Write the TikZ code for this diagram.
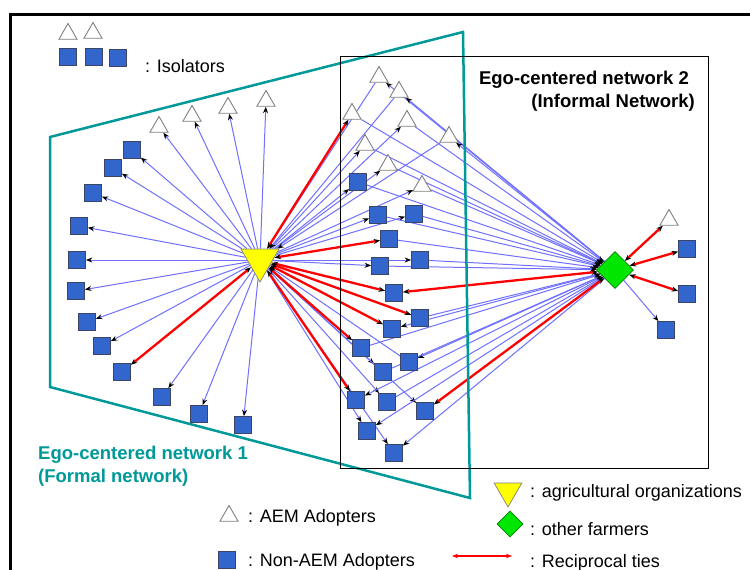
\documentclass[tikz,border=0pt]{standalone}
\usepackage{fontspec}
\setmainfont{Liberation Sans}
\usetikzlibrary{shapes.geometric,arrows.meta}
\pgfdeclarelayer{backlayer}
\pgfdeclarelayer{edgelayer}
\pgfdeclarelayer{framelayer}
\pgfsetlayers{backlayer,edgelayer,framelayer,main}
\definecolor{sqblue}{RGB}{51,102,204}
\definecolor{sqedge}{RGB}{60,70,100}
\definecolor{lnblue}{RGB}{112,112,255}
\definecolor{tealc}{RGB}{0,153,153}
\definecolor{egoyel}{RGB}{255,255,0}
\definecolor{egogrn}{RGB}{0,230,0}
\definecolor{egogrnedge}{RGB}{0,130,0}
\definecolor{trigray}{RGB}{128,128,128}
\tikzset{
  every node/.style={font=\fontsize{18}{20}\selectfont},
  trinode/.style={regular polygon,regular polygon sides=3,draw=trigray,fill=white,minimum size=21pt,inner sep=0pt,line width=0.9pt},
  sqnode/.style={rectangle,draw=sqedge,fill=sqblue,minimum size=17pt,inner sep=0pt,line width=0.7pt},
  egoA/.style={regular polygon,regular polygon sides=3,shape border rotate=180,draw=trigray,fill=egoyel,minimum size=44pt,inner sep=0pt,line width=0.7pt},
  egoB/.style={diamond,draw=egogrnedge,fill=egogrn,minimum size=37pt,inner sep=0pt,line width=0.7pt},
  tie/.style={draw=lnblue,line width=1pt,-{Stealth[length=6.5pt,width=5pt,color=black]}},
  tieback/.style={draw=lnblue,line width=1pt,{Stealth[length=6.5pt,width=5pt,color=black]}-},
  recip/.style={draw=red,line width=2.3pt,{Stealth[length=6.5pt,width=5pt,color=black]}-{Stealth[length=6.5pt,width=5pt,color=black]}},
  lbl/.style={anchor=base west,inner sep=0pt},
  ttl/.style={inner sep=0pt,font=\fontsize{18.5}{20}\selectfont\bfseries},
}
\begin{document}
\begin{tikzpicture}[x=1pt,y=-1pt]
\useasboundingbox (0,0) rectangle (750,570);
\begin{pgfonlayer}{backlayer}
\fill[white] (0,0) rectangle (750,570);
\end{pgfonlayer}
\draw[line width=3pt] (10,570) -- (10,14) -- (750,14);

% isolators
\node[trinode] (ia) at (68,34) {};
\node[trinode] (ib) at (93,33) {};
\node[sqnode] (sa) at (68,57) {};
\node[sqnode] (sb) at (94,57) {};
\node[sqnode] (sc) at (118,58) {};
\node[lbl] (tiso) at (145,72) {: Isolators};

% egos
\node[egoA] (E1) at (260,260) {};
\node[egoB] (E2) at (615,270) {};

% left network
\node[trinode] (L1) at (159,127) {};
\node[trinode] (L2) at (192,116) {};
\node[trinode] (L3) at (228,108) {};
\node[trinode] (L4) at (266,101) {};
\node[sqnode] (q1) at (132,150) {};
\node[sqnode] (q2) at (113,168) {};
\node[sqnode] (q3) at (93,193) {};
\node[sqnode] (q4) at (79,226) {};
\node[sqnode] (q5) at (77,260) {};
\node[sqnode] (q6) at (76,291) {};
\node[sqnode] (q7) at (87,322) {};
\node[sqnode] (q8) at (102,346) {};
\node[sqnode] (q9) at (122,372) {};
\node[sqnode] (q10) at (162,397) {};
\node[sqnode] (q11) at (199,414) {};
\node[sqnode] (q12) at (243,425) {};

% middle network
\node[trinode] (T1) at (379,77) {};
\node[trinode] (T2) at (399,92) {};
\node[trinode] (T3) at (352,114) {};
\node[trinode] (T4) at (407,121) {};
\node[trinode] (T5) at (449,137) {};
\node[trinode] (T6) at (365,145) {};
\node[trinode] (T7) at (388,165) {};
\node[trinode] (T8) at (422,186) {};
\node[sqnode] (S1) at (358,182) {};
\node[sqnode] (S2) at (378,215) {};
\node[sqnode] (S3) at (414,214) {};
\node[sqnode] (S4) at (389,239) {};
\node[sqnode] (S5) at (380,266) {};
\node[sqnode] (S6) at (420,260) {};
\node[sqnode] (S7) at (394,293) {};
\node[sqnode] (S8) at (420,318) {};
\node[sqnode] (S9) at (392,329) {};
\node[sqnode] (S10) at (361,348) {};
\node[sqnode] (S11) at (409,362) {};
\node[sqnode] (S12) at (383,372) {};
\node[sqnode] (S13) at (356,400) {};
\node[sqnode] (S14) at (387,402) {};
\node[sqnode] (S15) at (425,411) {};
\node[sqnode] (S16) at (367,431) {};
\node[sqnode] (S17) at (394,453) {};

% right network
\node[trinode] (R1) at (669,220) {};
\node[sqnode] (R2) at (687,249) {};
\node[sqnode] (R3) at (687,294) {};
\node[sqnode] (R4) at (666,330) {};

% legend
\node[trinode] (gA) at (229,516) {};
\node[sqnode] (gB) at (227,560) {};
\node[egoA,minimum size=32pt] (gC) at (508,491) {};
\node[egoB,minimum size=26pt] (gD) at (510,524) {};
\coordinate (gE1) at (452,556);
\coordinate (gE2) at (512,556);
\node[lbl] (tA) at (248,522) {: AEM Adopters};
\node[lbl] (tB) at (248,566) {: Non-AEM Adopters};
\node[lbl] (tC) at (530,497) {: agricultural organizations};
\node[lbl] (tD) at (530,535) {: other farmers};
\node[lbl] (tE) at (530,567) {: Reciprocal ties};

% titles
\node[ttl,anchor=base east] (t2a) at (689,84) {Ego-centered network 2};
\node[ttl,anchor=base east] (t2b) at (695,107) {(Informal Network)};
\node[ttl,anchor=base west,text=tealc] (t1a) at (38,459) {Ego-centered network 1};
\node[ttl,anchor=base west,text=tealc] (t1b) at (38,482) {(Formal network)};

\begin{pgfonlayer}{framelayer}
\draw[tealc,line width=2.5pt,line join=miter] (50,137) -- (463,32) -- (470,498) -- (50,387) -- cycle;
\draw[black,line width=0.9pt] (340,56) rectangle (708,468);
\end{pgfonlayer}

\begin{pgfonlayer}{edgelayer}
\foreach \n in {L1,L2,L3,L4,q1,q2,q3,q4,q5,q6,q7,q8,q10,q11,q12}
  \draw[tie] (E1) -- (\n);
\draw[recip] (E1) -- (q9);
\foreach \n in {T4,T6,T7,T8,S1,S2,S3,S5,S6,S12,S14,S15,S16,S17}
  \draw[tie] (E1) -- (\n);
\foreach \n in {T1,T2,T5,S11}
  \draw[tieback] (E1) -- (\n);
\foreach \n in {T3,S4,S7,S8,S9,S10,S13}
  \draw[recip] (E1) -- (\n);
\foreach \n in {T1,T2,T5,S9,S11,S13,S16,S17,R4}
  \draw[tie] (E2) -- (\n);
\foreach \n in {T3,T4,T6,T7,T8,S1,S2,S3,S4,S5,S6,S8,S10,S12,S14}
  \draw[tieback] (E2) -- (\n);
\foreach \n in {S7,S15,R1,R2,R3}
  \draw[recip] (E2) -- (\n);
\draw[draw=red,line width=1.5pt,{Stealth[length=6pt,width=4.5pt]}-{Stealth[length=6pt,width=4.5pt]}] (gE1) -- (gE2);
\end{pgfonlayer}
\end{tikzpicture}
\end{document}
